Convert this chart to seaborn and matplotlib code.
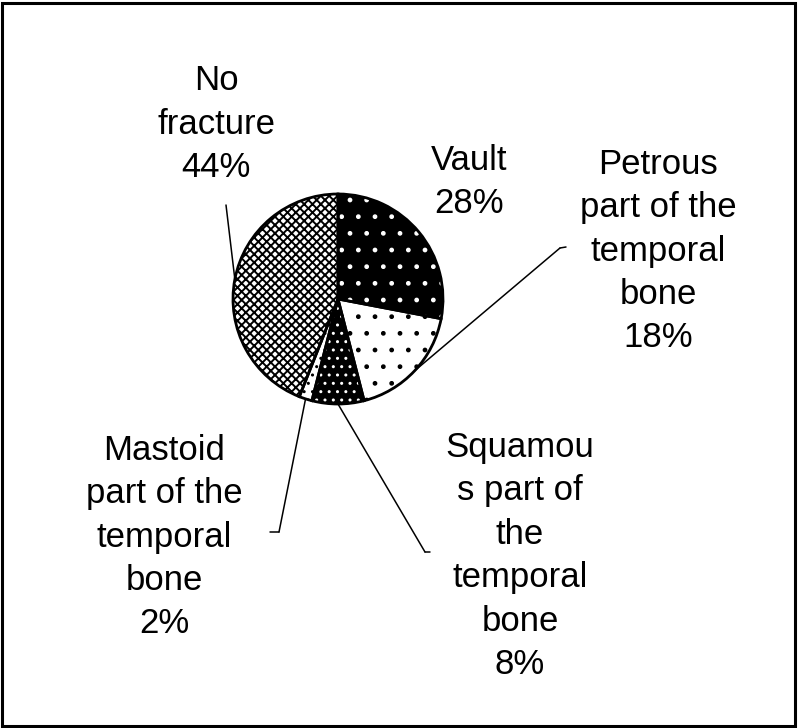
import matplotlib.pyplot as plt
import seaborn as sns
import numpy as np
from matplotlib.lines import Line2D
from matplotlib.patches import Rectangle

# dados do grafico
partes = ['Vault', 'Petrous\npart of the\ntemporal\nbone',
          'Squamou\ns part of\nthe\ntemporal\nbone',
          'Mastoid\npart of the\ntemporal\nbone', 'No\nfracture']
porcentagens = [28, 18, 8, 2, 44]

# estilo das fatias
fundos = ['black', 'white', 'black', 'white', 'white']
hachuras = ['.', '.', '..', '..', 'xxxx']
cores_hachura = ['white', 'black', 'white', 'black', 'black']
larg_hachura = [1.0, 1.0, 1.0, 1.0, 1.4]

# posicao dos rotulos (pixels, origem no topo) e das linhas de chamada
pos_texto = [(469, 182), (658, 251), (520, 556), (164, 537), (216, 124)]
fim_linha = [None, (560, 248), (425, 552), (279, 532), (226, 205)]
traco = [None, (566, 247), (430, 552), (270, 532), None]

sns.set_theme(style='white')
plt.rcParams['font.family'] = ['Liberation Sans', 'DejaVu Sans']
plt.rcParams['hatch.linewidth'] = 1.0

W, H = 800, 728
fig = plt.figure(figsize=(8, 7.28), dpi=100)


def fx(px):
    return px / W


def fy(py):
    return 1 - py / H


# eixo da pizza
cx, cy, r, lim = 338, 299, 105, 1.1
ax = fig.add_axes([fx(cx - r * lim), fy(cy + r * lim), 2 * r * lim / W, 2 * r * lim / H])

fatias, _ = ax.pie(porcentagens, startangle=90, counterclock=False, colors=fundos,
                   wedgeprops=dict(linewidth=0))
for w, h, hc, hl in zip(fatias, hachuras, cores_hachura, larg_hachura):
    w.set_hatch(h)
    w.set_edgecolor(hc)
    if hasattr(w, 'set_hatch_linewidth'):
        w.set_hatch_linewidth(hl)

# contorno preto
ax.pie(porcentagens, startangle=90, counterclock=False,
       wedgeprops=dict(fill=False, edgecolor='black', linewidth=2.0))
ax.set_xlim(-lim, lim)
ax.set_ylim(-lim, lim)
ax.set_aspect('equal')
ax.axis('off')

# rotulos e linhas de chamada
for w, nome, p, pt, fl, tr in zip(fatias, partes, porcentagens, pos_texto, fim_linha, traco):
    fig.text(fx(pt[0]), fy(pt[1]), f'{nome}\n{p}%', ha='center', va='center',
             fontsize=25, linespacing=1.4, color='black')
    if fl is None:
        continue
    meio = np.deg2rad((w.theta1 + w.theta2) / 2)
    ax.annotate('', xy=(np.cos(meio), np.sin(meio)), xycoords='data',
                xytext=(fx(fl[0]), fy(fl[1])), textcoords='figure fraction',
                arrowprops=dict(arrowstyle='-', lw=1.1, color='black', shrinkA=0, shrinkB=0))
    if tr is not None:
        fig.add_artist(Line2D([fx(fl[0]), fx(tr[0])], [fy(fl[1]), fy(tr[1])],
                              lw=1.1, color='black', transform=fig.transFigure))

# moldura
fig.add_artist(Rectangle((fx(1.5), fy(725.5)), 793.5 / W, 723 / H, transform=fig.transFigure,
                         fill=False, lw=2.2, edgecolor='black'))

plt.savefig('out.png', dpi=100)
